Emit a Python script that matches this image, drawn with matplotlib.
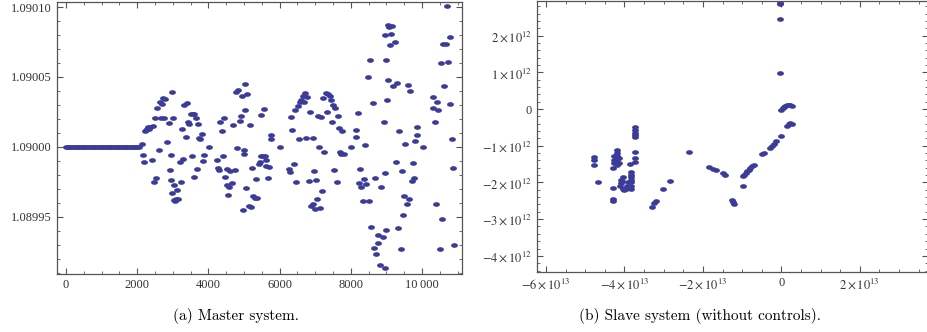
import numpy as np
import matplotlib
matplotlib.use('Agg')
import matplotlib.pyplot as plt
from matplotlib.path import Path
from matplotlib.ticker import MultipleLocator, FuncFormatter

# (a) master system: time step vs. state (flat part then oscillation)
flat_t = [0, 50, 100, 150, 200, 250, 300, 350, 400, 450, 500, 550, 600, 650,
          700, 750, 800, 850, 900, 950, 1000, 1050, 1100, 1150, 1200, 1250,
          1300, 1350, 1400, 1450, 1500, 1550, 1600, 1650, 1700, 1750, 1800,
          1850, 1900, 1950, 2000, 2050]
master_t = [2135, 2154, 2200, 2219, 2250, 2280, 2310, 2340, 2370, 2406, 2434,
            2472, 2500, 2537, 2565, 2612, 2631, 2678, 2706, 2734, 2762, 2790,
            2837, 2884, 2912, 2940, 2950, 2968, 2987, 3006, 3025, 3043, 3065,
            3090, 3127, 3146, 3193, 3230, 3258, 3296, 3324, 3371, 3399, 3436,
            3465, 3502, 3530, 3558, 3586, 3605, 3642, 3670, 3708, 3745, 3773,
            3811, 3848, 3876, 4017, 4241, 4269, 4307, 4335, 4372, 4400, 4438,
            4466, 4513, 4532, 4560, 4588, 4616, 4672, 4700, 4738, 4766, 4803,
            4831, 4878, 4916, 4944, 4972, 4990, 5000, 5019, 5028, 5056, 5084,
            5131, 5159, 5206, 5234, 5262, 5300, 5337, 5374, 5412, 5440, 5468,
            5487, 5524, 5562, 5580, 5608, 5627, 5664, 5702, 5749, 5768, 6020,
            6273, 6292, 6329, 6357, 6395, 6432, 6470, 6507, 6545, 6582, 6610,
            6648, 6676, 6713, 6741, 6779, 6826, 6854, 6891, 6929, 6947, 6976,
            7004, 7032, 7050, 7078, 7097, 7125, 7163, 7200, 7228, 7256, 7294,
            7331, 7359, 7406, 7443, 7462, 7500, 7528, 7565, 7603, 7641, 7668,
            7697, 7725, 7753, 7800, 8005, 8136, 8155, 8202, 8221, 8258, 8296,
            8333, 8361, 8408, 8436, 8473, 8502, 8539, 8577, 8614, 8642, 8680,
            8717, 8754, 8773, 8810, 8848, 8895, 8923, 8951, 8960, 8970, 8988,
            8998, 9026, 9045, 9054, 9082, 9101, 9120, 9167, 9195, 9232, 9260,
            9298, 9326, 9363, 9400, 9438, 9466, 9503, 9532, 9569, 9597, 9644,
            9672, 9709, 9737, 9784, 9794, 9850, 9869, 10028, 10300, 10318,
            10355, 10383, 10430, 10458, 10496, 10524, 10571, 10589, 10627,
            10664, 10711, 10720, 10777, 10796, 10842, 10861, 10908]
# deviation from 1.09 in units of 1e-5
master_dev = [0.21, -0.6, -1.1, 1.1, 1.2, 1.3, 1.4, 1.3, 1.45, -0.95, 1.5,
              -2.55, 2.1, -2.2, 2.8, -0.26, 3.2, 2.07, 3.1, 3.5, 2.1, 3.4,
              0.38, 1.74, -1.64, -2.4, -0.6, 3.9, -3.3, 2.1, -2.7, -3.8, -3.9,
              -3.75, -3.1, -3.7, -1.1, -2.5, 1.3, -0.86, 3.0, 0.74, 3.17, 1.8,
              1.67, 2.33, -0.62, 2.33, 2.33, -2.17, 2.1, -1.6, 1.6, 0.64, 0.57,
              0.9, -0.98, -0.57, 0.0, -0.93, -1.5, -1.64, 1.8, 1.17, -0.67,
              2.05, -2.14, -1.62, -2.74, -3.45, -2.88, -1.76, -2.6, 1.55,
              -1.67, 3.93, -0.07, 4.05, 1.88, 2.24, 3.67, -4.55, -0.5, -0.24,
              4.52, 2.64, -2.93, 3.81, -4.24, 1.55, -4.33, -1.48, -3.52, -3.69,
              -2.31, -3.69, -1.21, -1.05, -0.64, 2.29, -0.64, 2.74, -0.64,
              -1.36, -0.93, -2.26, -1.45, 0.55, 0.86, 0.0, -1.62, -1.81, 2.12,
              1.19, -1.26, 2.62, -2.55, 2.93, 0.55, 3.24, 3.38, 3.62, 3.19,
              3.83, 0.6, 3.57, -2.45, 2.5, -4.24, 0.6, -4.07, -1.74, -4.43,
              -2.36, -3.71, 2.21, 0.0, -4.38, 2.14, -3.19, 3.48, -0.4, 3.88,
              2.52, 3.76, 3.67, 3.33, 1.79, 3.0, -1.69, 2.76, -2.5, 2.21, 1.38,
              -0.36, -0.5, 1.12, -0.5, 0.02, 0.67, 1.21, 2.45, -2.6, -1.57,
              -2.88, -3.9, -2.29, 0.14, -2.64, 4.98, -3.9, 6.19, -5.71, 3.12,
              -7.26, -2.24, -7.69, -6.86, -6.29, -8.45, -2.88, -6.45, 1.79,
              -1.86, -8.69, 8.0, 6.19, -5.98, 3.38, 4.79, 8.69, 8.55, 7.26,
              8.07, 8.67, 4.33, 7.5, -1.1, 4.57, -5.79, 1.17, -7.33, -1.74,
              -4.88, -3.5, 0.19, -4.1, 4.43, -3.74, 3.98, -2.45, -1.17, -2.21,
              0.4, 1.43, 0.88, 0.0, 3.57, 2.79, 1.79, -4.12, 3.24, 2.64, -7.29,
              6.02, -5.19, 7.33, 4.38, 7.38, 10.07, 6.07, 7.88, 3.07, 0.55,
              -1.5, -7.0]

# (b) slave system: x in units of 1e13, y in units of 1e12
slave_x = [-0.03, -0.03, -0.03, -0.03, -0.03,
           0.0, 0.03, 0.07, 0.10, 0.14, 0.19, 0.23, 0.28,
           0.14, 0.19, 0.23, 0.27,
           -0.01,
           -0.13, -0.18, -0.24, -0.30,
           -0.45, -0.49,
           -0.70, -0.74, -0.79, -0.83, -0.87, -0.91, -0.95, -0.97,
           -0.99,
           -1.25, -1.21, -1.23,
           -1.50, -1.44,
           -1.84, -1.75, -1.67,
           -2.36, -2.84, -3.01, -3.20, -3.25, -3.31,
           -3.74, -3.74, -3.74, -3.74, -3.74, -3.74, -3.74, -3.74,
           -3.86,
           -3.84, -3.84, -3.84, -3.84, -3.84, -3.84, -3.84,
           -3.90, -3.93, -3.96,
           -4.05, -4.08, -4.10, -4.11, -4.05, -4.02, -4.06,
           -4.20, -4.20, -4.20, -4.20, -4.20, -4.20, -4.26, -4.26, -4.26,
           -4.15, -4.15,
           -4.30, -4.30, -4.30, -4.30,
           -4.67, -4.77, -4.77, -4.77]
slave_y = [2.94, 2.89, 2.85, 2.45, 0.99,
           -0.02, 0.02, 0.05, 0.09, 0.12, 0.12, 0.11, 0.09,
           -0.45, -0.42, -0.39, -0.40,
           -0.73,
           -0.88, -0.95, -1.02, -1.05,
           -1.20, -1.22,
           -1.52, -1.56, -1.61, -1.65, -1.70, -1.75, -1.79, -1.82,
           -2.11,
           -2.47, -2.58, -2.54,
           -1.75, -1.79,
           -1.59, -1.63, -1.65,
           -1.16, -1.95, -2.19, -2.51, -2.55, -2.66,
           -0.50, -0.56, -0.64, -0.70, -0.76, -1.17, -1.34, -1.43,
           -1.49,
           -1.72, -1.79, -1.86, -1.93, -2.00, -2.09, -2.18,
           -2.00, -2.09, -2.18,
           -1.84, -1.93, -2.02, -2.11, -2.18, -2.20, -1.97,
           -1.11, -1.20, -1.29, -1.36, -1.45, -1.52, -1.29, -1.38, -1.47,
           -1.34, -1.47,
           -1.61, -2.15, -2.44, -2.51,
           -1.98, -1.31, -1.40, -1.52]

dot_color = '#3b3b99'
frame_color = '#555555'
label_color = '#333333'

# flat ellipse marker like the original dots
theta = np.linspace(0, 2 * np.pi, 30)
ellipse = Path(np.column_stack([np.cos(theta), 0.6 * np.sin(theta)]), closed=True)


def style_frame(ax):
    for s in ax.spines.values():
        s.set_color(frame_color)
        s.set_linewidth(0.9)
    ax.tick_params(which='both', direction='in', top=True, right=True,
                   color=frame_color, labelcolor=label_color, labelsize=9)
    ax.tick_params(which='major', length=4.5, width=0.8)
    ax.tick_params(which='minor', length=2.5, width=0.6)
    for lab in ax.get_xticklabels() + ax.get_yticklabels():
        lab.set_family('Liberation Serif')


def sci_label(v, _):
    if abs(v) < 1e-3:
        return '0'
    exp = int(np.floor(np.log10(abs(v)) + 1e-9))
    mant = int(round(v / 10 ** exp))
    sign = '\u2212' if mant < 0 else ''
    return r'$%s%d\times10^{%d}$' % (sign, abs(mant), exp)


def step_label(v, _):
    if v >= 10000:
        return '{:,.0f}'.format(v).replace(',', '\u2009')
    return '%d' % v


def main():
    plt.rcParams['mathtext.fontset'] = 'stix'
    plt.rcParams['font.family'] = 'Liberation Serif'

    fig = plt.figure(figsize=(9.28, 3.32), dpi=100)

    # (a) master system
    ax1 = fig.add_axes([0.0614, 0.1747, 0.4364, 0.819])
    ax1.plot(flat_t, [1.09] * len(flat_t), linestyle='none', marker=ellipse,
             markersize=3.9, color=dot_color)
    ax1.plot(master_t, 1.09 + np.array(master_dev) * 1e-5, linestyle='none',
             marker=ellipse, markersize=3.9, color=dot_color)
    ax1.set_xlim(-250, 11120)
    ax1.set_ylim(1.089909, 1.0901036)
    ax1.xaxis.set_major_locator(MultipleLocator(2000))
    ax1.xaxis.set_minor_locator(MultipleLocator(500))
    ax1.yaxis.set_major_locator(MultipleLocator(0.00005))
    ax1.yaxis.set_minor_locator(MultipleLocator(0.00001))
    ax1.xaxis.set_major_formatter(FuncFormatter(step_label))
    ax1.yaxis.set_major_formatter(FuncFormatter(lambda v, _: '%.5f' % v))
    style_frame(ax1)

    # (b) slave system
    ax2 = fig.add_axes([0.5787, 0.1807, 0.4213, 0.816])
    ax2.plot(np.array(slave_x) * 1e13, np.array(slave_y) * 1e12,
             linestyle='none', marker=ellipse, markersize=3.9, color=dot_color)
    ax2.set_xlim(-6.23e13, 3.74e13)
    ax2.set_ylim(-4.44e12, 2.94e12)
    ax2.xaxis.set_major_locator(MultipleLocator(2e13))
    ax2.xaxis.set_minor_locator(MultipleLocator(0.5e13))
    ax2.yaxis.set_major_locator(MultipleLocator(1e12))
    ax2.yaxis.set_minor_locator(MultipleLocator(0.2e12))
    ax2.xaxis.set_major_formatter(FuncFormatter(sci_label))
    ax2.yaxis.set_major_formatter(FuncFormatter(sci_label))
    style_frame(ax2)

    fig.text(0.254, 0.048, '(a) Master system.', ha='center', va='center',
             family='cmr10', fontsize=11)
    fig.text(0.754, 0.048, '(b) Slave system (without controls).',
             ha='center', va='center', family='cmr10', fontsize=11)

    fig.savefig('out.png', dpi=100)


if __name__ == '__main__':
    main()
